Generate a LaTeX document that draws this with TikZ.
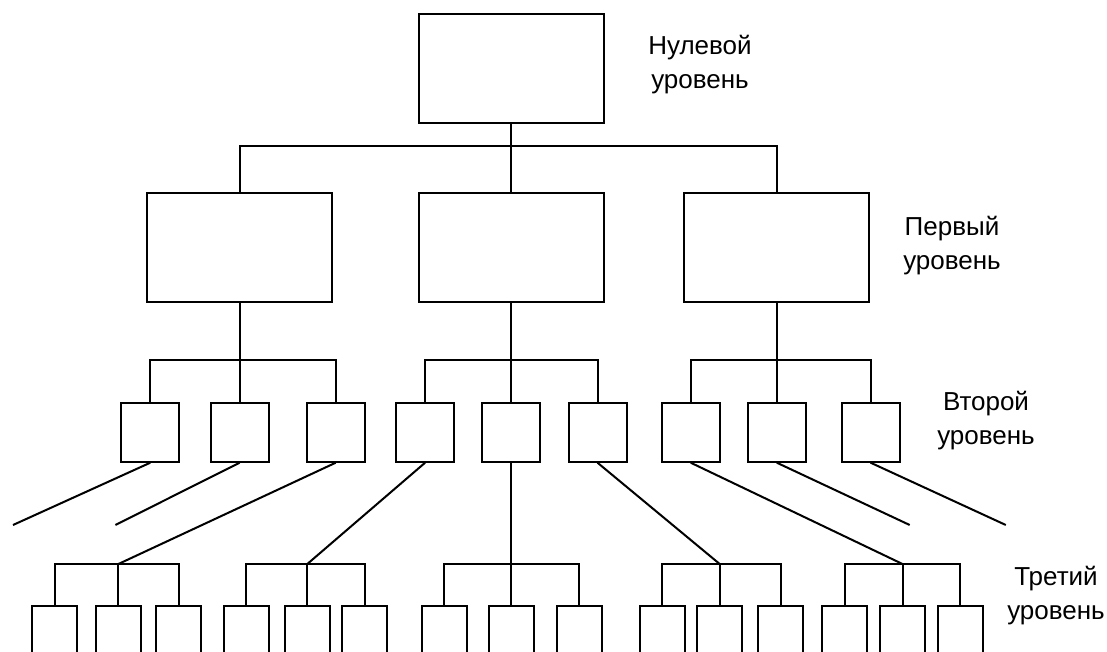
\documentclass[tikz,border=0pt]{standalone}
\usepackage{fontspec}
\setmainfont{Liberation Sans}
\begin{document}
\begin{tikzpicture}[x=1pt,y=-1pt,
  box/.style={draw,line width=2pt,inner sep=0pt,fill=white},
  bigbox/.style={box,minimum width=185pt,minimum height=109pt},
  midbox/.style={box,minimum width=58pt,minimum height=58.4pt},
  smallbox/.style={box,minimum width=45pt,minimum height=70pt,anchor=north},
  wire/.style={line width=2pt},
  lbl/.style={align=center,font=\fontsize{26}{34}\selectfont,inner sep=0pt}]
\useasboundingbox (0,0) rectangle (1107,652);
\clip (0,0) rectangle (1107,652);
% level 0 and 1
\node[bigbox] (t) at (511,68.3) {};
\node[bigbox] (l1a) at (239.6,247.3) {};
\node[bigbox] (l1b) at (511,247.3) {};
\node[bigbox] (l1c) at (776.8,247.3) {};
% level 2
\node[midbox] (l2a) at (150.3,432.5) {};
\node[midbox] (l2b) at (239.6,432.5) {};
\node[midbox] (l2c) at (335.7,432.5) {};
\node[midbox] (l2d) at (425.1,432.5) {};
\node[midbox] (l2e) at (511,432.5) {};
\node[midbox] (l2f) at (597.5,432.5) {};
\node[midbox] (l2g) at (690.7,432.5) {};
\node[midbox] (l2h) at (776.8,432.5) {};
\node[midbox] (l2i) at (870.6,432.5) {};
% level 3
\foreach \n/\x in {a1/54.5,a2/118.4,a3/178.8,b1/246.3,b2/307.3,b3/364.5,c1/444.3,c2/511,c3/579,d1/662,d2/719.7,d3/780.7,e1/844.6,e2/902.5,e3/960.3}
  \node[smallbox] (s\n) at (\x,605) {};
% level 0 -> level 1
\coordinate (b0) at (511,146.3);
\draw[wire] (t.south) -- (b0);
\draw[wire] (l1a.north) |- (b0) -| (l1c.north);
\draw[wire] (b0) -- (l1b.north);
% level 1 -> level 2
\coordinate (b1) at (239.6,359.5);
\coordinate (b2) at (511,359.5);
\coordinate (b3) at (776.8,359.5);
\draw[wire] (l1a.south) -- (b1);
\draw[wire] (l2a.north) |- (b1) -| (l2c.north);
\draw[wire] (b1) -- (l2b.north);
\draw[wire] (l1b.south) -- (b2);
\draw[wire] (l2d.north) |- (b2) -| (l2f.north);
\draw[wire] (b2) -- (l2e.north);
\draw[wire] (l1c.south) -- (b3);
\draw[wire] (l2g.north) |- (b3) -| (l2i.north);
\draw[wire] (b3) -- (l2h.north);
% level 3 buses
\coordinate (ca) at (118.4,564);
\coordinate (cb) at (307.3,564);
\coordinate (cc) at (511,564);
\coordinate (cd) at (719.7,564);
\coordinate (ce) at (902.5,564);
\foreach \g in {a,b,c,d,e}{
  \draw[wire] (s\g1.north) |- (c\g) -| (s\g3.north);
  \draw[wire] (c\g) -- (s\g2.north);
}
% level 2 -> level 3
\coordinate (fa) at (13,525);
\coordinate (fb) at (115.4,525);
\coordinate (fh) at (909.7,525);
\coordinate (fi) at (1005.8,525);
\draw[wire] (l2a.south) -- (fa);
\draw[wire] (l2b.south) -- (fb);
\draw[wire] (l2c.south) -- (ca);
\draw[wire] (l2d.south) -- (cb);
\draw[wire] (l2e.south) -- (cc);
\draw[wire] (l2f.south) -- (cd);
\draw[wire] (l2g.south) -- (ce);
\draw[wire] (l2h.south) -- (fh);
\draw[wire] (l2i.south) -- (fi);
% labels
\node[lbl] (t0) at (700,65) {Нулевой\\уровень};
\node[lbl] (t1) at (952,246) {Первый\\уровень};
\node[lbl] (t2) at (986,421) {Второй\\уровень};
\node[lbl] (t3) at (1056,596) {Третий\\уровень};
\end{tikzpicture}
\end{document}
